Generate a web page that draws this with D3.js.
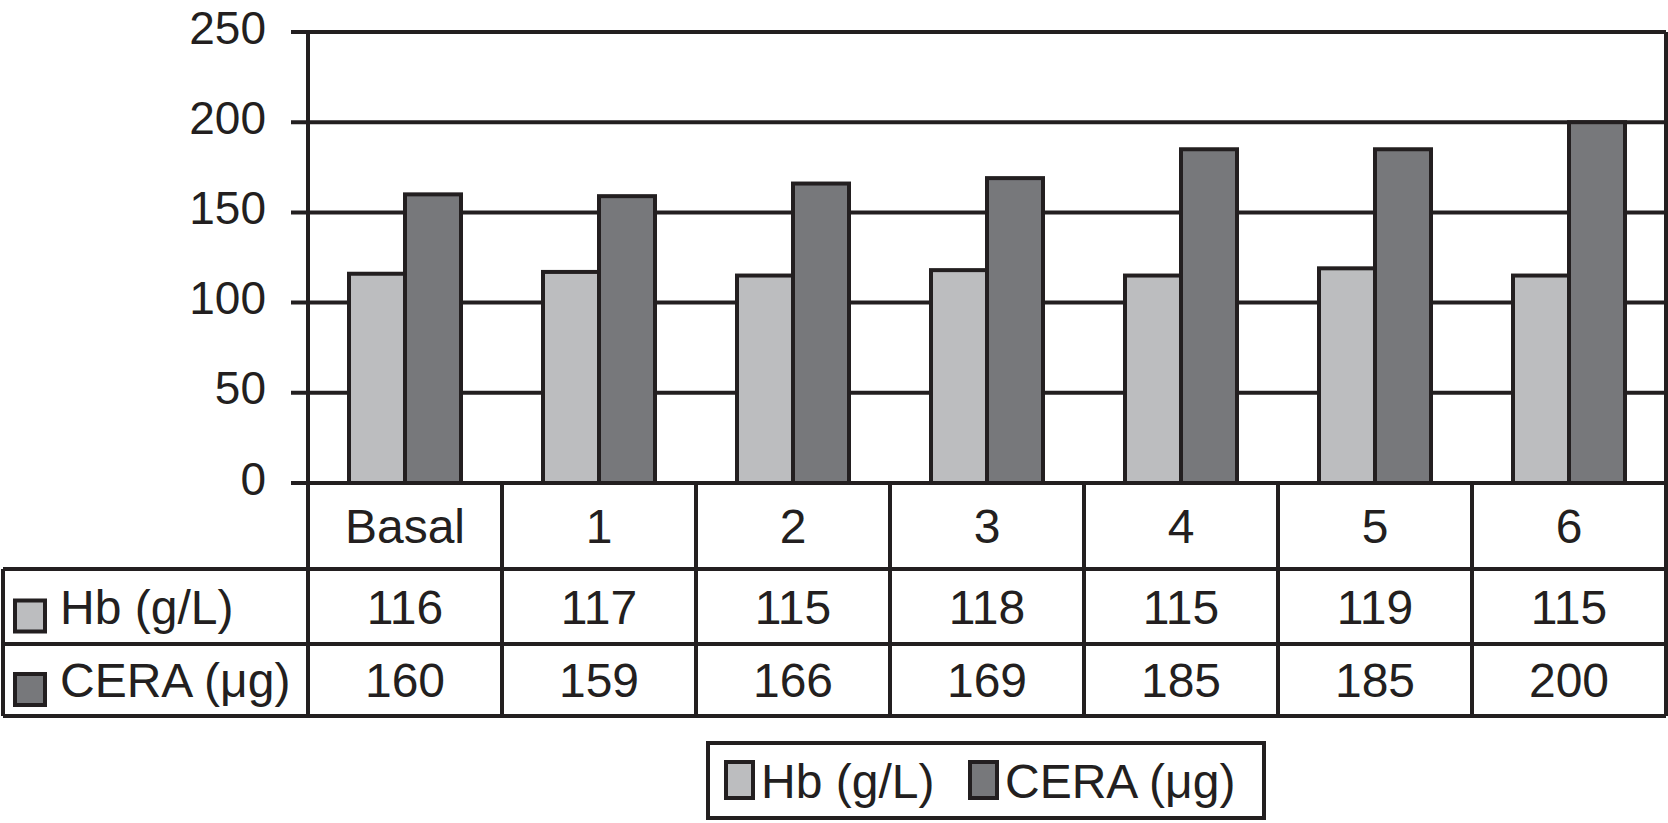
<!DOCTYPE html>
<html>
<head>
<meta charset="utf-8">
<script src="https://cdn.jsdelivr.net/npm/d3@7"></script>
<style>
  body { margin: 0; background: #fff; }
  text { font-family: "Liberation Sans", Arial, Helvetica, sans-serif; fill: #231f20; }
</style>
</head>
<body>
<div id="chart"></div>
<script>
// data
const categories = ["Basal", "1", "2", "3", "4", "5", "6"];
const seriesNames = ["Hb (g/L)", "CERA (\u03bcg)"];
const hbValues = [116, 117, 115, 118, 115, 119, 115];
const ceraValues = [160, 159, 166, 169, 185, 185, 200];
const yTicks = [0, 50, 100, 150, 200, 250];

const colors = ["#bcbdbf", "#77787b"];
const ink = "#231f20";

const width = 1668, height = 823;
let plot = {left: 308, right: 1666, top: 32, bottom: 483};
let rows = [483, 569, 644, 716]; // table row boundaries
let tableLeft = 3;
const fs = 48, tickFs = 46;
const sw = 4;

let svg = d3.select("#chart")
  .append("svg")
    .attr("width", width)
    .attr("height", height);

// scales
let x0 = d3.scaleBand()
  .domain(categories)
  .range([plot.left, plot.right]);

const barW = 56;
let x1 = d3.scaleBand()
  .domain(seriesNames)
  .range([(x0.bandwidth() - 2 * barW) / 2, (x0.bandwidth() + 2 * barW) / 2]);

let y = d3.scaleLinear()
  .domain([0, 250])
  .range([plot.bottom, plot.top]);

// gridlines + y labels
let grid = svg.append("g");
grid.selectAll("line")
  .data(yTicks)
  .join("line")
    .attr("x1", 291)
    .attr("x2", plot.right)
    .attr("y1", d => y(d))
    .attr("y2", d => y(d))
    .attr("stroke", ink)
    .attr("stroke-width", sw);

grid.selectAll("text")
  .data(yTicks)
  .join("text")
    .attr("x", 266)
    .attr("y", d => y(d) - 5 + 16.5)
    .attr("text-anchor", "end")
    .attr("font-size", tickFs)
    .text(d => d);

// bars
let series = [hbValues, ceraValues];
let groups = svg.append("g")
  .selectAll("g")
  .data(categories)
  .join("g")
    .attr("transform", d => "translate(" + x0(d) + ",0)");

groups.selectAll("rect")
  .data((d, i) => seriesNames.map((s, j) => ({s: s, v: series[j][i], j: j})))
  .join("rect")
    .attr("x", d => x1(d.s))
    .attr("width", x1.bandwidth())
    .attr("y", d => y(d.v))
    .attr("height", d => y(0) - y(d.v))
    .attr("fill", d => colors[d.j])
    .attr("stroke", ink)
    .attr("stroke-width", sw);

// frame: left axis, right edge
svg.append("line")
  .attr("x1", plot.left).attr("x2", plot.left)
  .attr("y1", plot.top).attr("y2", rows[3])
  .attr("stroke", ink).attr("stroke-width", sw);
svg.append("line")
  .attr("x1", plot.right).attr("x2", plot.right)
  .attr("y1", plot.top).attr("y2", rows[3])
  .attr("stroke", ink).attr("stroke-width", sw);

// data table
let table = svg.append("g");
// horizontal lines
table.selectAll("line.h")
  .data(rows.slice(1))
  .join("line")
    .attr("class", "h")
    .attr("x1", tableLeft)
    .attr("x2", plot.right)
    .attr("y1", d => d)
    .attr("y2", d => d)
    .attr("stroke", ink)
    .attr("stroke-width", sw);
// left border
table.append("line")
  .attr("x1", tableLeft).attr("x2", tableLeft)
  .attr("y1", rows[1]).attr("y2", rows[3])
  .attr("stroke", ink).attr("stroke-width", sw);
// column separators
table.selectAll("line.v")
  .data(categories.slice(1))
  .join("line")
    .attr("class", "v")
    .attr("x1", d => x0(d))
    .attr("x2", d => x0(d))
    .attr("y1", rows[0])
    .attr("y2", rows[3])
    .attr("stroke", ink)
    .attr("stroke-width", sw);

// category labels
table.selectAll("text.cat")
  .data(categories)
  .join("text")
    .attr("class", "cat")
    .attr("x", d => x0(d) + x0.bandwidth() / 2)
    .attr("y", (rows[0] + rows[1]) / 2 + 17)
    .attr("text-anchor", "middle")
    .attr("font-size", fs)
    .text(d => d);

// value rows
series.forEach((vals, j) => {
  let cy = (rows[j + 1] + rows[j + 2]) / 2;
  table.selectAll("text.val" + j)
    .data(vals)
    .join("text")
      .attr("class", "val" + j)
      .attr("x", (d, i) => x0(categories[i]) + x0.bandwidth() / 2)
      .attr("y", cy + 17)
      .attr("text-anchor", "middle")
      .attr("font-size", fs)
      .text(d => d);

  table.append("rect")
    .attr("x", 15).attr("y", cy - 6)
    .attr("width", 30).attr("height", 31)
    .attr("fill", colors[j])
    .attr("stroke", ink).attr("stroke-width", sw);
  table.append("text")
    .attr("x", 60)
    .attr("y", cy + 17)
    .attr("font-size", fs)
    .text(seriesNames[j]);
});

// legend
let legend = svg.append("g");
legend.append("rect")
  .attr("x", 708).attr("y", 743)
  .attr("width", 556).attr("height", 75)
  .attr("fill", "none")
  .attr("stroke", ink).attr("stroke-width", sw);

let legendX = [726, 970];
seriesNames.forEach((s, j) => {
  legend.append("rect")
    .attr("x", legendX[j]).attr("y", 762)
    .attr("width", 27).attr("height", 36)
    .attr("fill", colors[j])
    .attr("stroke", ink).attr("stroke-width", sw);
  legend.append("text")
    .attr("x", legendX[j] + 35)
    .attr("y", 781 + 17)
    .attr("font-size", fs)
    .text(s);
});
</script>
</body>
</html>
